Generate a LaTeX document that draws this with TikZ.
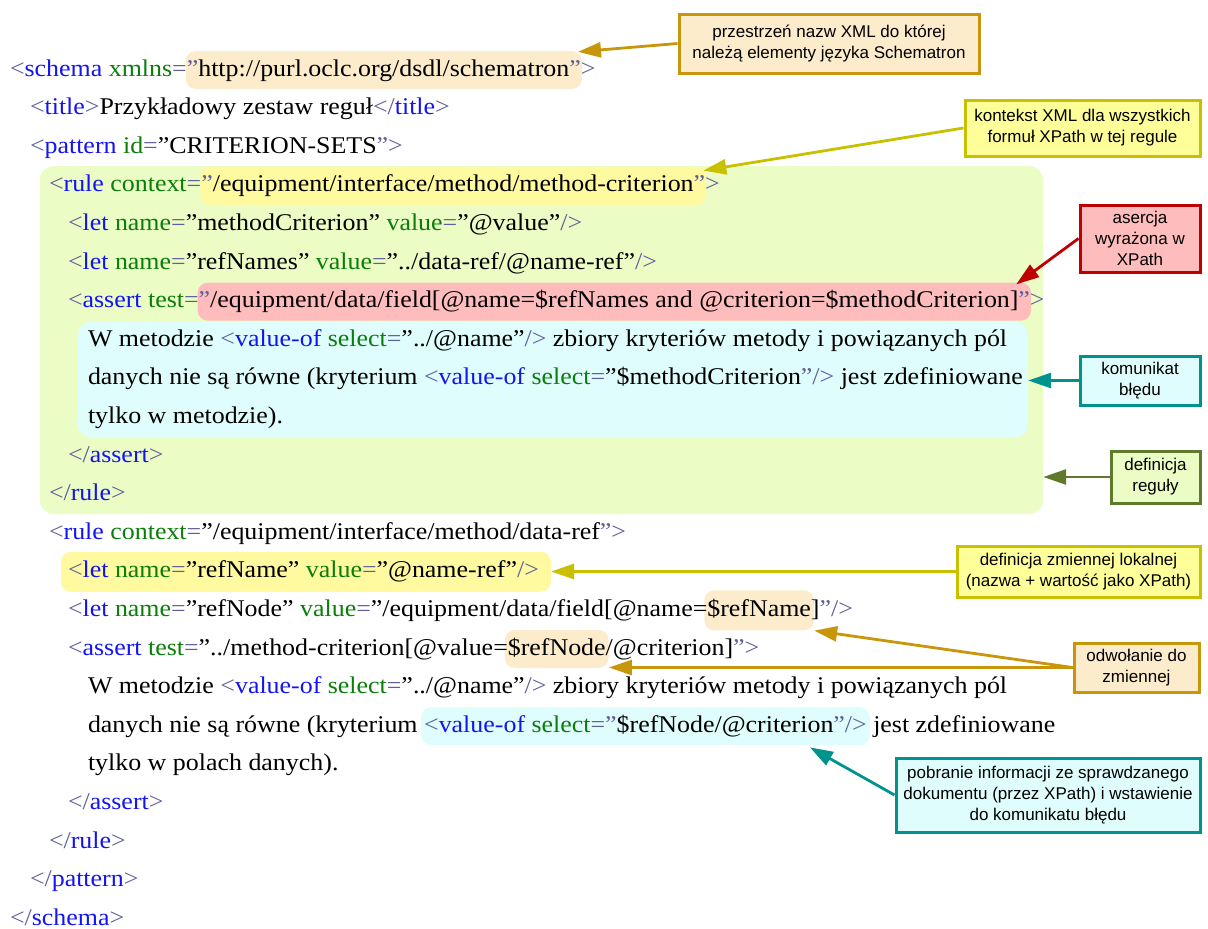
\documentclass[tikz,border=0pt]{standalone}
\usepackage{fontspec}
\setmainfont{Liberation Serif}
\newfontfamily\codefamily[FakeStretch=1.08]{Liberation Serif}
\newfontfamily\notefamily{Liberation Sans}
\usetikzlibrary{arrows.meta,backgrounds,fit,calc}

% syntax colours
\definecolor{tagc}{RGB}{20,20,240}
\definecolor{attc}{RGB}{10,125,10}
\definecolor{punc}{RGB}{95,95,155}
% highlight fills
\definecolor{hlorange}{RGB}{253,236,204}
\definecolor{hlyellow}{RGB}{255,250,160}
\definecolor{hlred}{RGB}{255,188,188}
\definecolor{hlcyan}{RGB}{224,253,253}
\definecolor{hlgreen}{RGB}{235,252,197}
% annotation colours
\definecolor{noteyellow}{RGB}{255,255,153}
\definecolor{orangeline}{RGB}{200,150,10}
\definecolor{yellowline}{RGB}{200,192,0}
\definecolor{redline}{RGB}{190,0,0}
\definecolor{tealline}{RGB}{0,146,140}
\definecolor{greenline}{RGB}{95,122,45}

\newcommand\xtag[1]{\textcolor{tagc}{#1}}
\newcommand\xatt[1]{\textcolor{attc}{#1}}
\newcommand\xpun[1]{\textcolor{punc}{#1}}

\begin{document}
\begin{tikzpicture}[x=1pt,y=-1pt,
  code/.style={inner sep=0pt,outer sep=0pt,text height=18pt,text depth=6pt,
    anchor=base west,font=\codefamily\fontsize{24}{28}\selectfont},
  hilite/.style={inner xsep=1pt,inner ysep=7pt,rounded corners=10pt,draw=none},
  block/.style={rounded corners=14pt,inner sep=0pt,draw=none},
  note/.style={line width=3pt,inner sep=0pt,align=center,
    font=\notefamily\fontsize{17}{21}\selectfont},
  conn/.style={line width=2.8pt,-{Triangle[length=23pt,width=15pt]}}]

\useasboundingbox (0,0) rectangle (1208,929);

% ---- schema source ----
\node[code] (l1a) at (10,76) {\xpun{<}\xtag{schema} \xatt{xmlns}\xpun{=}};
\node[code] (l1b) at (l1a.base east) {\xpun{”}http://purl.oclc.org/dsdl/schematron\xpun{”}};
\node[code] (l1c) at (l1b.base east) {\xpun{>}};

\node[code] (l2) at (30,114.6) {\xpun{<}\xtag{title}\xpun{>}Przykładowy zestaw reguł\xpun{</}\xtag{title}\xpun{>}};
\node[code] (l3) at (30,153.2) {\xpun{<}\xtag{pattern} \xatt{id}\xpun{=}”CRITERION-SETS\xpun{”>}};

\node[code] (l4a) at (49,191.8) {\xpun{<}\xtag{rule} \xatt{context}\xpun{=}};
\node[code] (l4b) at (l4a.base east) {\xpun{”}/equipment/interface/method/method-criterion\xpun{”}};
\node[code] (l4c) at (l4b.base east) {\xpun{>}};

\node[code] (l5) at (68,230.4) {\xpun{<}\xtag{let} \xatt{name}\xpun{=}”methodCriterion” \xatt{value}\xpun{=}”@value”\xpun{/>}};
\node[code] (l6) at (68,269) {\xpun{<}\xtag{let} \xatt{name}\xpun{=}”refNames” \xatt{value}\xpun{=}”../data-ref/@name-ref”\xpun{/>}};

\node[code] (l7a) at (68,307.6) {\xpun{<}\xtag{assert} \xatt{test}\xpun{=}};
\node[code] (l7b) at (l7a.base east) {\xpun{”}/equipment/data/field[@name=\$refNames and @criterion=\$methodCriterion]\xpun{”}};
\node[code] (l7c) at (l7b.base east) {\xpun{>}};

\node[code] (l8) at (88,346.2) {W metodzie \xpun{<}\xtag{value-of} \xatt{select}\xpun{=}”../@name”\xpun{/>} zbiory kryteriów metody i powiązanych pól};
\node[code] (l9) at (88,384.8) {danych nie są równe (kryterium \xpun{<}\xtag{value-of} \xatt{select}\xpun{=}”\$methodCriterion\xpun{”/>} jest zdefiniowane};
\node[code] (l10) at (88,423.4) {tylko w metodzie).};
\node[code] (l11) at (68,462) {\xpun{</}\xtag{assert}\xpun{>}};
\node[code] (l12) at (49,500.6) {\xpun{</}\xtag{rule}\xpun{>}};

\node[code] (l13) at (49,539.2) {\xpun{<}\xtag{rule} \xatt{context}\xpun{=}”/equipment/interface/method/data-ref\xpun{”>}};
\node[code] (l14) at (68,577.8) {\xpun{<}\xtag{let} \xatt{name}\xpun{=}”refName” \xatt{value}\xpun{=}”@name-ref”\xpun{/>}};
\coordinate (l14end) at ($(l14.base east)+(5,0)$);

\node[code] (l15a) at (68,616.4) {\xpun{<}\xtag{let} \xatt{name}\xpun{=}”refNode” \xatt{value}\xpun{=}”/equipment/data/field[@name=};
\node[code] (l15b) at (l15a.base east) {\$refName};
\node[code] (l15c) at (l15b.base east) {]\xpun{”/>}};

\node[code] (l16a) at (68,655) {\xpun{<}\xtag{assert} \xatt{test}\xpun{=}”../method-criterion[@value=};
\node[code] (l16b) at (l16a.base east) {\$refNode};
\node[code] (l16c) at (l16b.base east) {/@criterion]\xpun{”>}};

\node[code] (l17) at (88,693.6) {W metodzie \xpun{<}\xtag{value-of} \xatt{select}\xpun{=}”../@name”\xpun{/>} zbiory kryteriów metody i powiązanych pól};
\node[code] (l18a) at (88,732.2) {danych nie są równe (kryterium};
\coordinate (l18gap) at ($(l18a.base east)+(6.5,0)$);
\node[code] (l18b) at (l18gap) {\xpun{<}\xtag{value-of} \xatt{select}\xpun{=”}\$refNode/@criterion\xpun{”/>}};
\node[code] (l18c) at (l18b.base east) {\ jest zdefiniowane};
\node[code] (l19) at (88,770.8) {tylko w polach danych).};
\node[code] (l20) at (68,809.4) {\xpun{</}\xtag{assert}\xpun{>}};
\node[code] (l21) at (49,848) {\xpun{</}\xtag{rule}\xpun{>}};
\node[code] (l22) at (30,886.6) {\xpun{</}\xtag{pattern}\xpun{>}};
\node[code] (l23) at (10,925.2) {\xpun{</}\xtag{schema}\xpun{>}};

% ---- shaded regions behind the source ----
\begin{scope}[on background layer]
  \node[block,fill=hlgreen,minimum width=1003pt,minimum height=348pt] (rulebox) at (541.5,340) {};
  \node[block,rounded corners=12pt,fill=hlcyan,minimum width=950pt,minimum height=115pt] (msgbox) at (553,379.5) {};
  \node[hilite,fill=hlorange,fit=(l1b)] (ns) {};
  \node[hilite,fill=hlyellow,fit=(l4b)] (ctx) {};
  \node[hilite,fill=hlred,fit=(l7b)] (test) {};
  \node[hilite,fill=hlyellow,inner xsep=7pt,inner ysep=8pt,fit=(l14)(l14end)] (letdef) {};
  \node[hilite,fill=hlorange,inner xsep=3pt,inner ysep=8pt,fit=(l15b)] (refname) {};
  \node[hilite,fill=hlorange,inner xsep=3pt,fit=(l16b)] (refnode) {};
  \node[hilite,fill=hlcyan,inner xsep=3pt,fit=(l18b)] (valof) {};
\end{scope}

% ---- annotations ----
\node[note,fill=hlorange,draw=orangeline,minimum width=300pt,minimum height=59pt] (n1) at (829,43.5)
  {przestrzeń nazw XML do której\\należą elementy języka Schematron};
\node[note,fill=noteyellow,draw=yellowline,minimum width=235pt,minimum height=56pt] (n2) at (1082.5,128)
  {kontekst XML dla wszystkich\\formuł XPath w tej regule};
\node[note,fill=hlred,draw=redline,minimum width=120pt,minimum height=67pt] (n3) at (1140,238.5)
  {asercja\\wyrażona w\\XPath};
\node[note,fill=hlcyan,draw=tealline,minimum width=120pt,minimum height=49pt] (n4) at (1140,380.5)
  {komunikat\\błędu};
\node[note,fill=hlgreen,draw=greenline,minimum width=89pt,minimum height=52pt] (n5) at (1155.5,477)
  {definicja\\reguły};
\node[note,fill=noteyellow,draw=yellowline,minimum width=243pt,minimum height=51pt] (n6) at (1078.5,571.5)
  {definicja zmiennej lokalnej\\(nazwa + wartość jako XPath)};
\node[note,fill=hlorange,draw=orangeline,minimum width=125pt,minimum height=49pt] (n7) at (1136.5,667.5)
  {odwołanie do\\zmiennej};
\node[note,fill=hlcyan,draw=tealline,minimum width=304pt,minimum height=74pt] (n8) at (1048,795)
  {pobranie informacji ze sprawdzanego\\dokumentu (przez XPath) i wstawienie\\do komunikatu błędu};

% ---- connectors ----
\coordinate (nsTip) at ($(ns.north east)+(-4,1)$);
\coordinate (ctxTip) at ($(ctx.north east)+(-3,4)$);
\coordinate (testTip) at ($(test.north east)+(-15,2)$);
\coordinate (valofTip) at ($(valof.south east)+(-60,2)$);
\draw[conn,orangeline] (n1.west) -- (nsTip);
\draw[conn,yellowline] (n2.west) -- (ctxTip);
\draw[conn,redline] (n3.west) -- (testTip);
\draw[conn,tealline] (n4.west) -- (msgbox.east |- n4.west);
\draw[conn,greenline] (n5.west) -- (rulebox.east |- n5.west);
\draw[conn,yellowline] (n6.west) -- (letdef.east |- n6.west);
\draw[conn,orangeline] (n7.west) -- (refname.south east);
\draw[conn,orangeline] (n7.west) -- (refnode.south east |- n7.west);
\draw[conn,tealline] (n8.west) -- (valofTip);
\end{tikzpicture}
\end{document}
